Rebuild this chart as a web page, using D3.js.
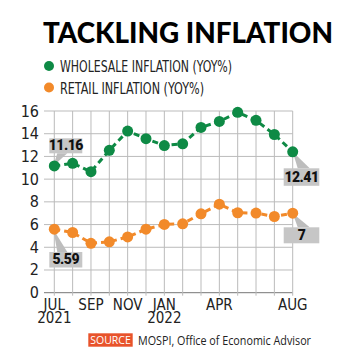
<!DOCTYPE html>
<html>
    <head>
        <meta charset="UTF-8">
        <script src="https://d3js.org/d3.v7.min.js"></script>
        <style>
            body { margin: 0; background: #fff; }
            .cond { font-family: "Liberation Sans Narrow", "DejaVu Sans Condensed", "Roboto", sans-serif; }
        </style>
    </head>

    <body>

        <svg id="canvas"></svg>

        <script>

            width = 350;
            height = 362;

            months = ["JUL","AUG","SEP","OCT","NOV","DEC","JAN","FEB","MAR","APR","MAY","JUN","JUL2","AUG2"];
            tickMonths = {"JUL": ["JUL","2021"], "SEP": ["SEP"], "NOV": ["NOV"], "JAN": ["JAN","2022"], "APR": ["APR"], "AUG2": ["AUG"]};
            wholesale = [11.16, 11.39, 10.66, 12.54, 14.23, 13.56, 12.96, 13.11, 14.55, 15.08, 15.88, 15.18, 13.93, 12.41];
            retail = [5.59, 5.30, 4.35, 4.48, 4.91, 5.59, 6.01, 6.07, 6.95, 7.79, 7.04, 7.01, 6.71, 7.00];
            yTicks = [0, 2, 4, 6, 8, 10, 12, 14, 16];

            green = "#0e8a45";
            orange = "#f28a2a";

            canvas = d3.select("#canvas")
                .attr("width", width)
                .attr("height", height);

            x = d3.scalePoint()
                .domain(months)
                .range([54.3, 292.7]);

            y = d3.scaleLinear()
                .domain([0, 16])
                .range([292.7, 111]);

            // title
            canvas.append("text")
                .attr("x", 43).attr("y", 43)
                .attr("textLength", 290)
                .attr("lengthAdjust", "spacingAndGlyphs")
                .style("font-family", "Lato, Roboto, sans-serif")
                .style("font-weight", 900)
                .style("font-size", "29px")
                .text("TACKLING INFLATION");

            // legend
            legend = [["WHOLESALE INFLATION (YOY%)", green, 66, 172], ["RETAIL INFLATION (YOY%)", orange, 87.5, 144]];
            legend.forEach(function(l) {
                canvas.append("circle").attr("cx", 49).attr("cy", l[2]).attr("r", 5).style("fill", l[1]);
                canvas.append("text").attr("class", "cond")
                    .attr("x", 60).attr("y", l[2] + 6)
                    .attr("textLength", l[3])
                    .attr("lengthAdjust", "spacingAndGlyphs")
                    .style("font-size", "16px")
                    .style("fill", "#222")
                    .text(l[0]);
            });

            // grid
            canvas.append("g")
                .selectAll("line")
                .data(yTicks)
                .enter()
                    .append("line")
                        .attr("x1", 44).attr("x2", 292.7)
                        .attr("y1", (d) => y(d)).attr("y2", (d) => y(d))
                        .style("stroke", (d) => d == 0 ? "#777" : "#bbb")
                        .style("stroke-width", 1);

            canvas.append("g")
                .selectAll("line")
                .data(months)
                .enter()
                    .append("line")
                        .attr("x1", (d) => x(d)).attr("x2", (d) => x(d))
                        .attr("y1", y(16)).attr("y2", y(0) + 3)
                        .style("stroke", "#bbb")
                        .style("stroke-width", 1);

            // y labels
            canvas.append("g")
                .selectAll("text")
                .data(yTicks)
                .enter()
                    .append("text").attr("class", "cond")
                        .attr("x", 39).attr("y", (d) => y(d) + 5.5)
                        .attr("text-anchor", "end")
                        .style("font-size", "16px")
                        .style("fill", "#222")
                        .text((d) => d);

            // x labels
            Object.keys(tickMonths).forEach(function(m) {
                tickMonths[m].forEach(function(t, i) {
                    canvas.append("text").attr("class", "cond")
                        .attr("x", x(m)).attr("y", 309.5 + i * 13.5)
                        .attr("text-anchor", "middle")
                        .style("font-size", "15px")
                        .style("fill", "#222")
                        .text(t);
                });
            });

            line = d3.line()
                .x((d, i) => x(months[i]))
                .y((d) => y(d));

            function callout(px, py, bx, by, bw, bh, label, dir) {
                // wedge from point to box
                tip = dir == "up" ? [[px - 1, py], [bx + 8, by + bh], [bx + 18, by + bh]]
                    : dir == "down" ? [[px - 1, py], [bx + 8, by], [bx + 18, by]]
                    : [[px, py], [bx + 14, by], [bx + 26, by]];
                canvas.append("polygon")
                    .attr("points", tip.map((p) => p.join(",")).join(" "))
                    .style("fill", "#bdbdbd");
                canvas.append("rect")
                    .attr("x", bx).attr("y", by).attr("width", bw).attr("height", bh)
                    .style("fill", "#c6c6c6");
                canvas.append("text")
                    .attr("x", bx + bw / 2).attr("y", by + bh - 3.5)
                    .attr("text-anchor", "middle")
                    .style("font-family", "Roboto, sans-serif")
                    .style("font-weight", 900)
                    .style("font-size", "14px")
                    .style("letter-spacing", "-0.5px")
                    .style("fill", "#111")
                    .text(label);
            }

            function series(data, color) {
                canvas.append("path")
                    .datum(data)
                    .attr("d", line)
                    .style("fill", "none")
                    .style("stroke", color)
                    .style("stroke-width", 3)
                    .style("stroke-dasharray", "6,4");
                canvas.append("g")
                    .selectAll("circle")
                    .data(data)
                    .enter()
                        .append("circle")
                            .attr("cx", (d, i) => x(months[i]))
                            .attr("cy", (d) => y(d))
                            .attr("r", 5.5)
                            .style("fill", color);
            }

            callout(x("JUL"), y(wholesale[0]), 49.3, 138.3, 33, 15, "11.16", "up");
            callout(x("JUL"), y(retail[0]), 49.3, 252, 33, 15.5, "5.59", "down");
            callout(x("AUG2"), y(wholesale[13]), 283.7, 168.3, 35.6, 17.5, "12.41", "right");
            callout(x("AUG2"), y(retail[13]), 283.7, 227.3, 35.6, 16, "7", "right");

            series(wholesale, green);
            series(retail, orange);

            // source
            canvas.append("rect")
                .attr("x", 88.3).attr("y", 333.3).attr("width", 44.4).attr("height", 13.4)
                .style("fill", "#e8532b");
            canvas.append("text")
                .attr("x", 110.5).attr("y", 344)
                .attr("text-anchor", "middle")
                .style("font-family", "'Open Sans', sans-serif")
                .style("font-size", "10.5px")
                .style("fill", "#fff")
                .text("SOURCE");
            canvas.append("text")
                .attr("x", 138).attr("y", 344.5)
                .attr("textLength", 173)
                .attr("lengthAdjust", "spacingAndGlyphs")
                .style("font-family", "'Open Sans', sans-serif")
                .style("font-size", "12px")
                .style("fill", "#222")
                .text("MOSPI, Office of Economic Advisor");

        </script>

    </body>

</html>
